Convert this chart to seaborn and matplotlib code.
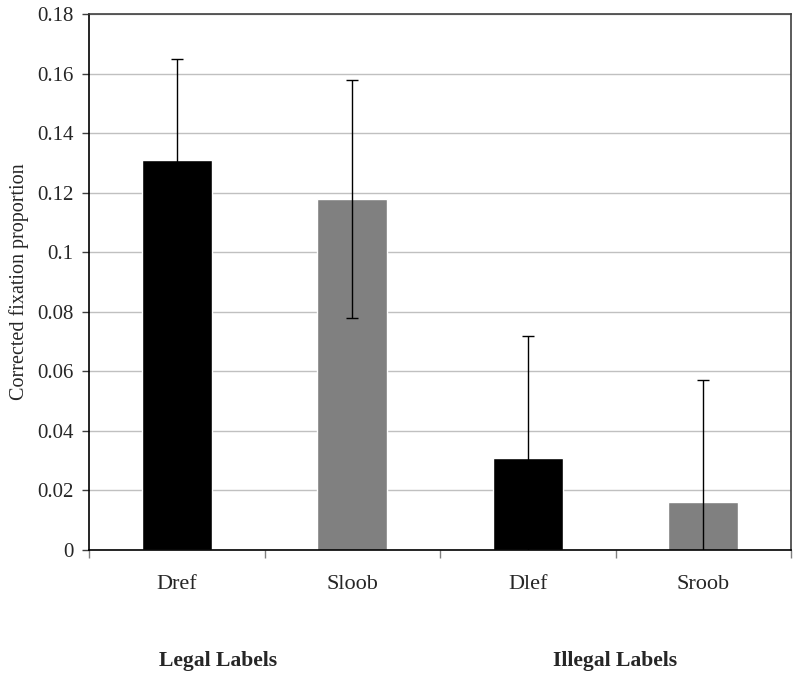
import matplotlib
matplotlib.use("Agg")
import matplotlib.pyplot as plt
import seaborn as sns
import numpy as np
import pandas as pd

# data
labels = ["Dref", "Sloob", "Dlef", "Sroob"]
proportion = [0.131, 0.118, 0.031, 0.016]
errors = [0.034, 0.040, 0.041, 0.041]
bar_colors = ["#000000", "#808080", "#000000", "#808080"]
groups = ["Legal Labels", "Illegal Labels"]

sns.set_style("white")
plt.rcParams["font.family"] = ["Liberation Serif", "DejaVu Serif"]

df = pd.DataFrame({"label": labels, "value": proportion})

fig = plt.figure(figsize=(8, 6.77), dpi=100)
ax = fig.add_axes([0.11125, 0.1876, 0.8775, 0.7917])

sns.barplot(data=df, x="label", y="value", hue="label", palette=bar_colors,
            width=0.4, legend=False, ax=ax, zorder=2, saturation=1)

x = np.arange(len(labels))
ax.errorbar(x, proportion, yerr=errors, fmt="none", ecolor="black",
            elinewidth=1, capsize=4.3, capthick=1, zorder=3)

ax.set_xlim(-0.5, len(labels) - 0.5)
ax.set_ylim(0, 0.18)
ax.set_yticks(np.arange(0, 0.181, 0.02))
ax.set_yticklabels(["0"] + [f"{v:g}" for v in np.arange(0.02, 0.181, 0.02)])
ax.yaxis.grid(True, color="#c0c0c0", linewidth=1, zorder=0)
ax.set_axisbelow(True)

# category labels sit between the boundary ticks
ax.set_xticks(x)
ax.set_xticklabels(labels)
ax.tick_params(axis="x", which="major", length=0, pad=18, labelsize=16)
ax.set_xticks(np.arange(-0.5, len(labels), 1), minor=True)
ax.tick_params(axis="x", which="minor", bottom=True, length=6, width=1,
               color="#808080", direction="out")
ax.tick_params(axis="y", left=True, length=5, width=1, color="#404040",
               direction="out", labelsize=15, pad=6)

ax.set_xlabel("")
ax.set_ylabel("Corrected fixation proportion", fontsize=14.5, labelpad=6)

for side in ["left", "bottom"]:
    ax.spines[side].set_color("black")
    ax.spines[side].set_linewidth(1.2)
for side in ["top", "right"]:
    ax.spines[side].set_visible(True)
    ax.spines[side].set_color("#404040")
    ax.spines[side].set_linewidth(1.2)

fig.text(218 / 800, 1 - 661 / 677, groups[0], ha="center", va="center",
         fontsize=15.6, fontweight="bold")
fig.text(615 / 800, 1 - 661 / 677, groups[1], ha="center", va="center",
         fontsize=15.6, fontweight="bold")

fig.savefig("out.png", dpi=100)
